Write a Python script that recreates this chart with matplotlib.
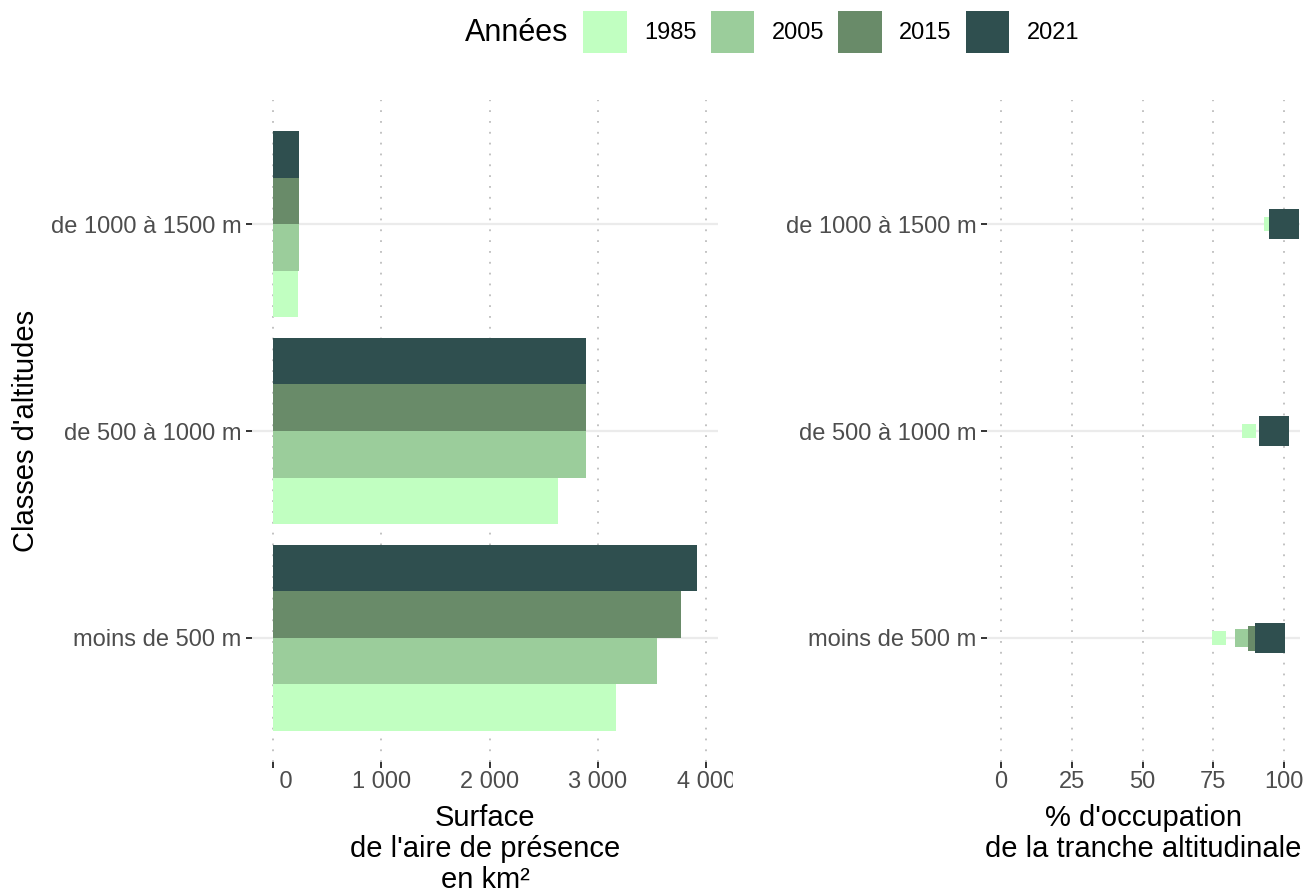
import matplotlib
matplotlib.use("Agg")
import matplotlib.pyplot as plt
from matplotlib.patches import Patch
from matplotlib.transforms import Bbox, TransformedBbox

plt.rcParams['font.family'] = ['Liberation Sans', 'DejaVu Sans']

# data
categories = ["moins de 500 m", "de 500 à 1000 m", "de 1000 à 1500 m"]
years = ["1985", "2005", "2015", "2021"]
colors = ["#C1FFC1", "#9BCD9B", "#698B69", "#2F4F4F"]

surface_1985 = [3167, 2632, 231]
surface_2005 = [3546, 2890, 240]
surface_2015 = [3767, 2890, 240]
surface_2021 = [3915, 2890, 240]

occup_1985 = [76.9, 87.8, 95.5]
occup_2005 = [86.0, 96.5, 99.9]
occup_2015 = [91.4, 96.5, 100.0]
occup_2021 = [95.2, 96.5, 100.1]

surface = [surface_1985, surface_2005, surface_2015, surface_2021]
occupation = [occup_1985, occup_2005, occup_2015, occup_2021]
marker_area = [88, 187, 324, 467]

left_ticks = [0, 1000, 2000, 3000, 4000]
left_ticklabels = ["    0", "1 000", "2 000", "3 000", "4 000"]
right_ticks = [0, 25, 50, 75, 100]

TICK_COL = "#4D4D4D"
TICK_FS = 17
TITLE_FS = 21

fig = plt.figure(figsize=(13.08, 8.92), dpi=100)
ax_l = fig.add_axes([252 / 1308, 130 / 892, 466 / 1308, 662 / 892])
ax_r = fig.add_axes([987 / 1308, 130 / 892, 313 / 1308, 662 / 892])

ypos = list(range(len(categories)))
bar_h = 0.9 / len(years)

for i, (yr, col) in enumerate(zip(years, colors)):
    offs = [y + (i - 1.5) * bar_h for y in ypos]
    ax_l.barh(offs, surface[i], height=bar_h, color=col, zorder=3, linewidth=0)
    ax_r.scatter(occupation[i], ypos, s=marker_area[i], marker='s', color=col,
                 linewidths=0, zorder=3 + i)


def style(ax, xlim, xticks, xticklabels):
    ax.set_xlim(*xlim)
    ax.set_ylim(-0.6, 2.6)
    for s in ax.spines.values():
        s.set_visible(False)
    ax.set_facecolor("none")
    ax.set_xticks(xticks)
    ax.set_xticklabels(xticklabels)
    ax.set_yticks(ypos)
    ax.set_yticklabels(categories)
    ax.tick_params(axis='both', colors="#333333", labelcolor=TICK_COL,
                   labelsize=TICK_FS, length=4.3, width=1.4)
    ax.tick_params(axis='x', pad=2)
    ax.tick_params(axis='y', pad=3.5)
    for x in xticks:
        ax.axvline(x, color="#BDBDBD", lw=1.3, ls=(0, (1, 5)), zorder=1)
    for y in ypos:
        ax.axhline(y, color="#EBEBEB", lw=1.6, zorder=1)


style(ax_l, (-195, 4110), left_ticks, left_ticklabels)
style(ax_r, (-4.95, 105.65), right_ticks, [str(t) for t in right_ticks])

# clip the last x tick label like the original viewport
clip = TransformedBbox(Bbox([[0, 0], [733 / 1308, 1]]), fig.transFigure)
for lab in ax_l.get_xticklabels():
    lab.set_clip_on(True)
    lab.set_clip_box(clip)

ax_l.set_xlabel("Surface\nde l'aire de présence\nen km²", fontsize=TITLE_FS,
                linespacing=1.12)
ax_l.xaxis.set_label_coords(0.5, -0.064)
ax_r.set_xlabel("% d'occupation\nde la tranche altitudinale", fontsize=TITLE_FS,
                linespacing=1.12)
ax_r.xaxis.set_label_coords(0.5, -0.064)
ax_l.set_ylabel("Classes d'altitudes", fontsize=TITLE_FS)
ax_l.yaxis.set_label_coords(-0.455, 0.5)

# legend
handles = [Patch(facecolor=c, edgecolor='none') for c in colors]
fig.legend(handles, years, ncol=4, loc='center', frameon=False,
           bbox_to_anchor=(831 / 1308, 1 - 32 / 892), fontsize=TICK_FS,
           handlelength=1.85, handleheight=2.39, handletextpad=0.73,
           columnspacing=0.6, borderpad=0)
fig.text(517 / 1308, 1 - 33 / 892, "Années", fontsize=22,
         ha='center', va='center')

fig.savefig("out.png", dpi=100)
